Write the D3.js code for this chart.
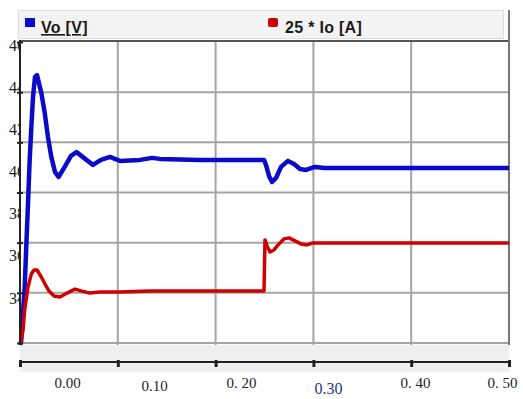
<!DOCTYPE html>
<html>
<head>
<meta charset="utf-8">
<script src="https://cdn.jsdelivr.net/npm/d3@7"></script>
<style>
  body { margin: 0; background: #fff; }
  svg { display: block; }
</style>
</head>
<body>
<div id="chart"></div>
<script>
// time [s]
const voTime = [0, 0.001, 0.0048, 0.0064, 0.0082, 0.0099, 0.0116, 0.0133, 0.0153, 0.0174, 0.0218, 0.0253, 0.0286, 0.032, 0.0358, 0.0394, 0.0457, 0.0521, 0.0578, 0.0654, 0.0746, 0.0828, 0.092, 0.1022, 0.1227, 0.135, 0.143, 0.184, 0.2495, 0.2515, 0.2546, 0.2577, 0.2618, 0.2669, 0.274, 0.2802, 0.2863, 0.2924, 0.3016, 0.3119, 0.3272, 0.5];
const voValues = [34.0, 34.0, 36.23, 37.83, 39.58, 41.30, 42.61, 43.81, 44.60, 44.68, 43.97, 43.17, 42.21, 41.42, 40.82, 40.62, 41.02, 41.46, 41.61, 41.38, 41.10, 41.30, 41.42, 41.26, 41.30, 41.38, 41.34, 41.30, 41.30, 41.10, 40.66, 40.42, 40.58, 41.02, 41.26, 41.14, 40.94, 40.90, 41.02, 40.98, 40.98, 40.98];

const ioTime = [0, 0.001, 0.0031, 0.0048, 0.0082, 0.0116, 0.0143, 0.0174, 0.0218, 0.0256, 0.0297, 0.0348, 0.0409, 0.0481, 0.0562, 0.0634, 0.0716, 0.0818, 0.1022, 0.1329, 0.184, 0.2495, 0.2505, 0.2526, 0.2556, 0.2597, 0.2648, 0.2699, 0.2751, 0.2812, 0.2873, 0.2935, 0.2996, 0.3272, 0.5];
const ioValues = [34.0, 34.0, 34.52, 35.32, 36.23, 36.75, 36.91, 36.91, 36.63, 36.35, 36.07, 35.87, 35.83, 35.99, 36.15, 36.07, 35.99, 36.03, 36.03, 36.07, 36.07, 36.07, 38.11, 37.87, 37.63, 37.71, 37.95, 38.15, 38.19, 38.07, 37.95, 37.91, 37.99, 37.99, 37.99];

const seriesNames = ['Vo [V]', '25 * Io [A]'];
const seriesColors = ['#0a0ac8', '#d00000'];

const xTicks = [0, 0.1, 0.2, 0.3, 0.4, 0.5];
const xTickLabels = ['0.00', '0.10', '0. 20', '0.30', '0. 40', '0. 50'];
const yTicks = [46, 44, 42, 40, 38, 36, 34];
const yTickLabels = ['46', '44', '42', '40', '38', '36', '34'];

const width = 523;
const height = 399;
const plot = { left: 20, right: 509, top: 42, bottom: 343 };

const svg = d3.select('#chart')
    .append('svg')
    .attr('width', width)
    .attr('height', height);

const xScale = d3.scaleLinear().domain([0, 0.5]).range([plot.left, plot.right]);
const yScale = d3.scaleLinear().domain([46, 34]).range([plot.top, plot.bottom]);
// the labels of the original sit off their ticks
const xLabelScale = d3.scaleLinear().domain([0, 0.5]).range([67, 502]);
const yLabelScale = d3.scaleLinear().domain([46, 34]).range([45, 298]);

// y labels first, the plot area hides half of them
svg.append('g')
    .attr('transform', 'translate(27,0)')
    .call(d3.axisLeft(yLabelScale).tickValues(yTicks).tickSize(0).tickPadding(2)
        .tickFormat((d, i) => yTickLabels[i]))
    .call(g => g.select('.domain').remove())
    .selectAll('text')
    .attr('font-family', '"Liberation Serif", serif')
    .attr('font-size', 16)
    .attr('fill', '#222');

// gray band under the plot
svg.append('rect')
    .attr('x', plot.left).attr('y', 344)
    .attr('width', plot.right - plot.left).attr('height', 28)
    .attr('fill', '#efefef');

svg.append('rect')
    .attr('x', plot.left).attr('y', 40)
    .attr('width', plot.right - plot.left).attr('height', 305)
    .attr('fill', '#fff');

// grid
svg.append('g')
    .selectAll('line')
    .data(xTicks.slice(1, -1))
    .enter()
    .append('line')
    .attr('x1', d => xScale(d)).attr('x2', d => xScale(d))
    .attr('y1', 40).attr('y2', 345)
    .attr('stroke', '#a4a4a4')
    .attr('stroke-width', 2);

svg.append('g')
    .selectAll('line')
    .data(yTicks.slice(1))
    .enter()
    .append('line')
    .attr('x1', plot.left).attr('x2', plot.right)
    .attr('y1', d => yScale(d)).attr('y2', d => yScale(d))
    .attr('stroke', '#a4a4a4')
    .attr('stroke-width', 2);

// frame
svg.append('line')
    .attr('x1', plot.left).attr('x2', plot.right)
    .attr('y1', 41).attr('y2', 41)
    .attr('stroke', '#555').attr('stroke-width', 2);
svg.append('line')
    .attr('x1', plot.right).attr('x2', plot.right)
    .attr('y1', 10).attr('y2', 345)
    .attr('stroke', '#777').attr('stroke-width', 2);

// legend bar
svg.append('rect')
    .attr('x', 18.5).attr('y', 10.5)
    .attr('width', 485).attr('height', 28)
    .attr('fill', '#f3f3f3')
    .attr('stroke', '#dcdcdc');

const legend = svg.append('g')
    .selectAll('g')
    .data(seriesNames)
    .enter()
    .append('g')
    .attr('transform', (d, i) => `translate(${i === 0 ? 25 : 268}, 0)`);

legend.append('rect')
    .attr('x', 0).attr('y', 18)
    .attr('width', 10).attr('height', 9)
    .attr('rx', (d, i) => i === 0 ? 0 : 2)
    .attr('fill', (d, i) => seriesColors[i]);

legend.append('text')
    .attr('x', (d, i) => i === 0 ? 16 : 17)
    .attr('y', 33)
    .attr('font-family', '"Liberation Sans", Arial, sans-serif')
    .attr('font-size', 16)
    .attr('font-weight', 'bold')
    .attr('letter-spacing', 0.3)
    .attr('fill', '#1a1a1a')
    .attr('text-decoration', (d, i) => i === 0 ? 'underline' : null)
    .text(d => d);

// lines
const line = d3.line()
    .x(d => xScale(d[0]))
    .y(d => yScale(d[1]));

const series = [
    d3.zip(voTime, voValues),
    d3.zip(ioTime, ioValues)
];

svg.append('g')
    .selectAll('path')
    .data(series)
    .enter()
    .append('path')
    .attr('d', line)
    .attr('fill', 'none')
    .attr('stroke', (d, i) => seriesColors[i])
    .attr('stroke-width', (d, i) => i === 0 ? 4.5 : 3.5)
    .attr('stroke-linejoin', 'round');

// left axis line with small ticks
svg.append('g')
    .attr('transform', `translate(${plot.left},0)`)
    .call(d3.axisLeft(yScale).tickValues(yTicks).tickSize(3).tickFormat(''))
    .call(g => g.select('.domain').attr('d', 'M0,40V345').attr('stroke', '#222').attr('stroke-width', 2))
    .call(g => g.selectAll('.tick line').attr('x2', 3).attr('x1', -3).attr('stroke', '#222').attr('stroke-width', 2));

// bottom time axis
svg.append('g')
    .attr('transform', 'translate(0,362)')
    .call(d3.axisBottom(xScale).tickValues(xTicks).tickSize(5).tickFormat(''))
    .call(g => g.select('.domain').attr('d', `M${plot.left},0H${plot.right}`).attr('stroke', '#222').attr('stroke-width', 2))
    .call(g => g.selectAll('.tick line').attr('y1', -2).attr('stroke', '#222').attr('stroke-width', 3));

svg.append('g')
    .attr('transform', 'translate(0,373)')
    .call(d3.axisBottom(xLabelScale).tickValues(xTicks).tickSize(0).tickPadding(4)
        .tickFormat((d, i) => xTickLabels[i]))
    .call(g => g.select('.domain').remove())
    .selectAll('text')
    .attr('font-family', '"Liberation Serif", serif')
    .attr('font-size', (d, i) => i === 3 ? 16 : 15)
    .attr('fill', (d, i) => i === 3 ? '#1d3a78' : '#222')
    .attr('dy', (d, i) => i === 3 ? '1.05em' : (i === 1 ? '0.9em' : '0.71em'));
</script>
</body>
</html>
